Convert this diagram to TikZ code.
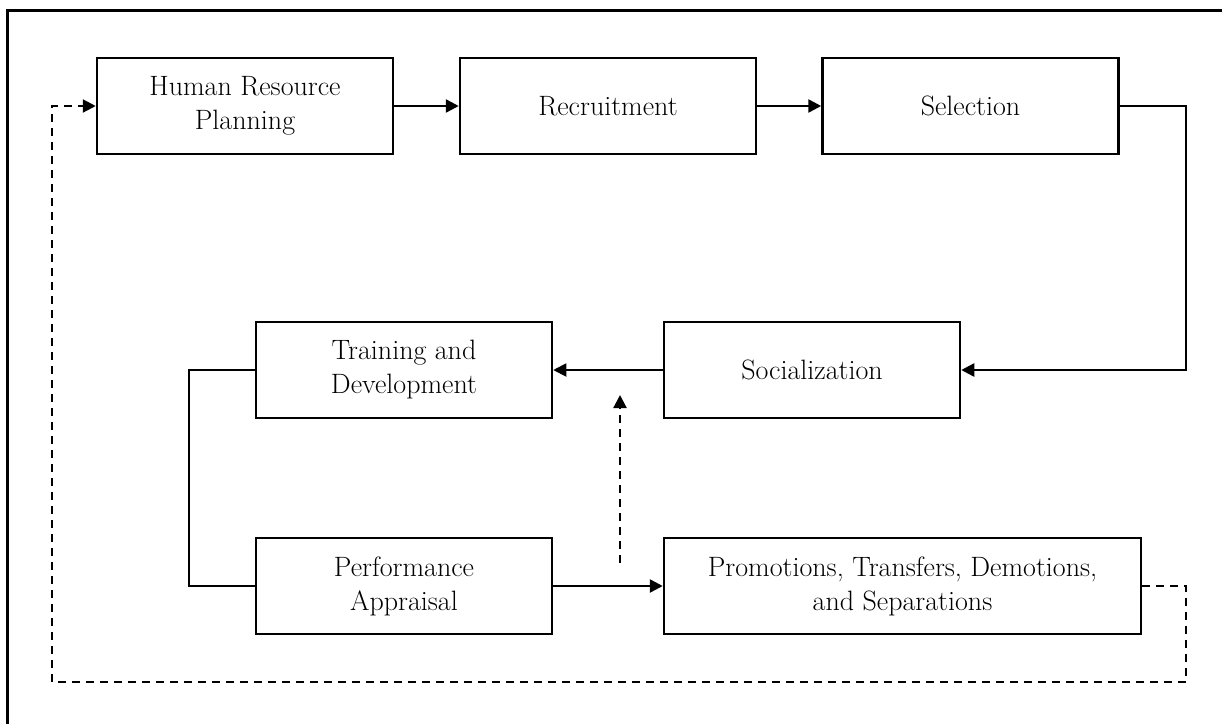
\documentclass[tikz,border=0pt]{standalone}
\usetikzlibrary{arrows.meta,positioning}
\begin{document}
\begin{tikzpicture}[x=1pt,y=-1pt,
  box/.style={draw,line width=2.5pt,minimum width=296pt,minimum height=96pt,
    align=center,inner sep=0pt,font=\fontsize{28}{34}\selectfont},
  arr/.style={-{Triangle[length=13pt,width=13pt]}},
  thick2/.style={line width=2.5pt},
  thin2/.style={line width=1.8pt},
  dashline/.style={line width=2.2pt,dash pattern=on 8pt off 6pt}]
\useasboundingbox (0,0) rectangle (1222,724);
\draw[line width=3pt] (1222,10) -- (7,10) -- (7,724);
\node[box] (hrp) at (245,106) {Human Resource\\Planning};
\node[box] (rec) at (608,106) {Recruitment};
\node[box] (sel) at (970.5,106) {Selection};
\node[box] (soc) at (812,370) {Socialization};
\node[box] (td) at (404,370) {Training and\\Development};
\node[box] (pa) at (404,586) {Performance\\Appraisal};
\node[box,minimum width=477pt] (pro) at (902.5,586) {Promotions, Transfers, Demotions,\\and Separations};
\coordinate (sr) at (1186,106);
\coordinate (dr) at (1186,682);
\coordinate (dl) at (52,682);
\coordinate (lc) at (189,370);
\coordinate (ub) at (620,563);
\coordinate (ut) at (620,395);
\draw[thick2,arr] (hrp.east) -- (rec.west);
\draw[thick2,arr] (rec.east) -- (sel.west);
\draw[thick2,arr] (sel.east) -- (sr) |- (soc.east);
\draw[thin2,arr] (soc.west) -- (td.east);
\draw[thin2] (td.west) -- (lc) |- (pa.west);
\draw[thick2,arr] (pa.east) -- (pro.west);
\draw[dashline,arr] (ub) -- (ut);
\draw[dashline,arr] (pro.east) -| (dr) -- (dl) |- (hrp.west);
\end{tikzpicture}
\end{document}
